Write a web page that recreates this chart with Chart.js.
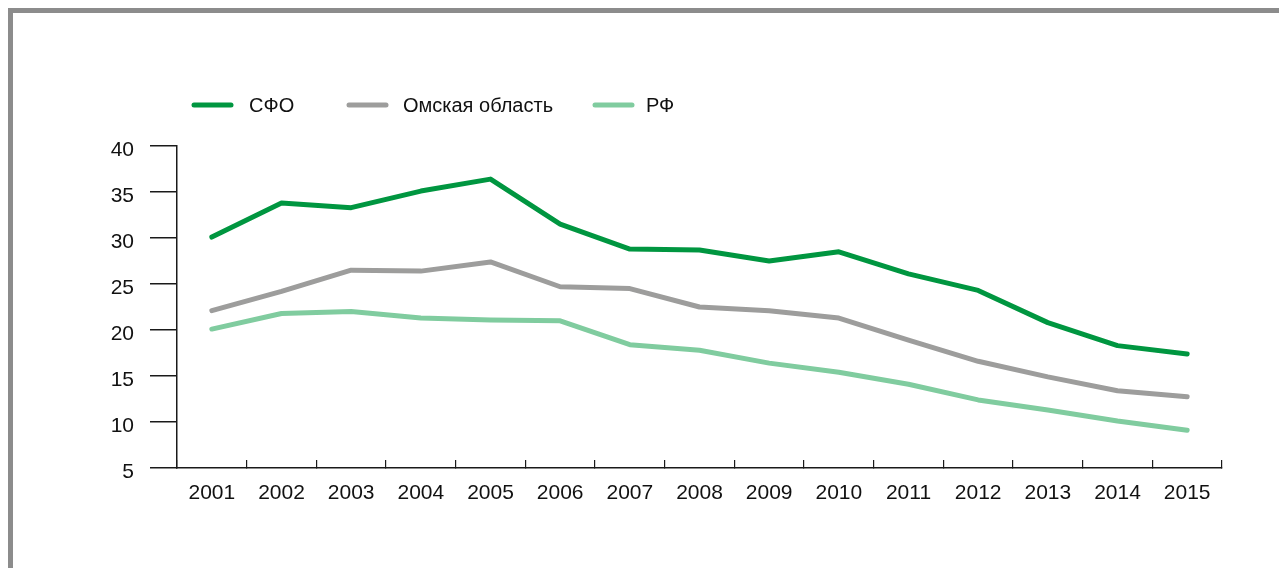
<!DOCTYPE html>
<html><head><meta charset="utf-8">
<script src="https://cdn.jsdelivr.net/npm/chart.js@4.4.1/dist/chart.umd.min.js"></script>
<style>
html,body{margin:0;padding:0;background:#fff;}
#wrap{position:relative;width:1279px;height:568px;overflow:hidden;}
#c{position:absolute;left:0;top:0;}
#frameL{position:absolute;left:8px;top:8px;width:5px;height:560px;background:#8c8c8c;}
#frameT{position:absolute;left:8px;top:8px;width:1271px;height:5px;background:#8c8c8c;}
</style></head><body>
<div id="wrap"><canvas id="c" width="1279" height="568"></canvas><div id="frameL"></div><div id="frameT"></div></div>
<script>
const years = ['2001','2002','2003','2004','2005','2006','2007','2008','2009','2010','2011','2012','2013','2014','2015'];
const sfo  = [30.1, 33.8, 33.3, 35.1, 36.4, 31.5, 28.8, 28.7, 27.5, 28.5, 26.1, 24.3, 20.8, 18.3, 17.4];
const omsk = [22.1, 24.2, 26.5, 26.4, 27.4, 24.7, 24.5, 22.5, 22.1, 21.3, 18.9, 16.6, 14.9, 13.4, 12.75];
const rf   = [20.1, 21.8, 22.0, 21.3, 21.1, 21.0, 18.4, 17.8, 16.4, 15.4, 14.1, 12.4, 11.3, 10.1, 9.1];
const seriesNames = ['СФО', 'Омская область', 'РФ'];
const seriesColors = ['#009640', '#9d9d9c', '#80cc9f'];
const yMin = 5, yMax = 40, yStep = 5;

const FONT = "'Liberation Sans', Arial, sans-serif";
Chart.defaults.font.family = FONT;
Chart.defaults.font.size = 20;
Chart.defaults.color = '#111111';

const legendPlugin = {
  id: 'customLegend',
  afterDraw(chart) {
    const ctx = chart.ctx;
    const boxX = [192, 347, 593];
    const textX = [249, 403, 646];
    const y = 105;
    ctx.save();
    chart.data.datasets.forEach((ds, i) => {
      ctx.strokeStyle = ds.borderColor;
      ctx.lineWidth = 5;
      ctx.lineCap = 'round';
      ctx.beginPath();
      ctx.moveTo(boxX[i] + 2, y);
      ctx.lineTo(boxX[i] + 39, y);
      ctx.stroke();
      ctx.fillStyle = '#111111';
      ctx.font = '20px ' + FONT;
      ctx.textBaseline = 'middle';
      ctx.textAlign = 'left';
      ctx.fillText(ds.label, textX[i], y + 1);
    });
    ctx.restore();
  }
};

const datasets = [sfo, omsk, rf].map((d, i) => ({
  label: seriesNames[i],
  data: d,
  borderColor: seriesColors[i],
  backgroundColor: seriesColors[i],
  borderWidth: 5,
  pointRadius: 0,
  tension: 0,
  borderCapStyle: 'round',
  borderJoinStyle: 'round',
  fill: false
}));

new Chart(document.getElementById('c'), {
  type: 'line',
  data: { labels: years, datasets },
  options: {
    responsive: false,
    animation: false,
    layout: { padding: { top: 146, right: 57, bottom: 0, left: 0 } },
    plugins: { legend: { display: false }, tooltip: { enabled: false } },
    scales: {
      x: {
        type: 'category',
        offset: true,
        grid: { offset: true, drawOnChartArea: false, drawTicks: true, tickLength: -8, color: '#1a1a1a', lineWidth: 1.2 },
        border: { display: true, color: '#1a1a1a', width: 1.5 },
        ticks: { padding: 21, maxRotation: 0, autoSkip: false, color: '#111111', font: { size: 21 } },
        afterFit(s) { s.height = 100; }
      },
      y: {
        min: yMin, max: yMax,
        ticks: { stepSize: yStep, padding: 16, labelOffset: 4, color: '#111111', font: { size: 21 } },
        grid: { drawOnChartArea: false, drawTicks: true, tickLength: 27, color: '#1a1a1a', lineWidth: 1.5 },
        border: { display: true, color: '#1a1a1a', width: 1.5 },
        afterFit(s) { s.width = 177; }
      }
    }
  },
  plugins: [legendPlugin]
});
</script>
</body></html>
